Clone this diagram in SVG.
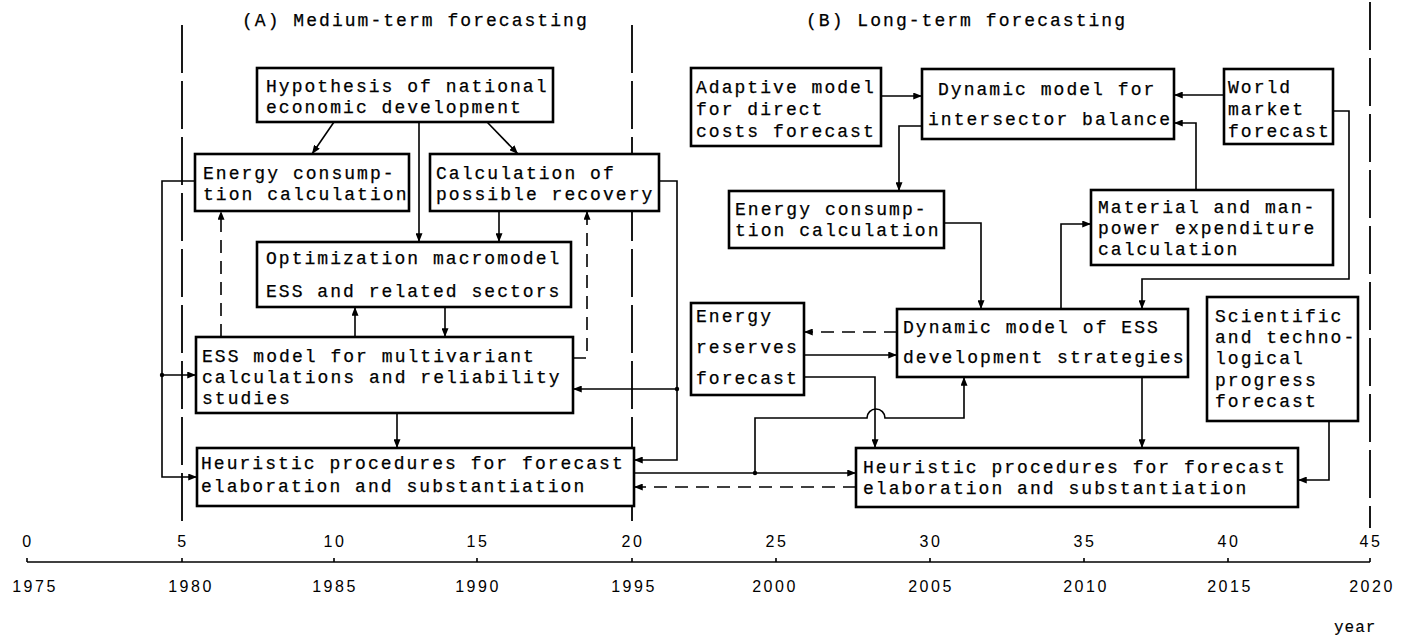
<svg xmlns="http://www.w3.org/2000/svg" width="1401" height="639" viewBox="0 0 1401 639">
  <style>
    .t { font-family: "Liberation Mono", "Courier New", monospace; font-size: 18px; letter-spacing: 2.04px; fill: #000; stroke: #000; stroke-width: 0.25; }
    .ax { font-family: "Liberation Sans", Arial, sans-serif; font-size: 16px; fill: #000; letter-spacing: 2.5px; text-anchor: middle; }
    .box { fill: #fff; stroke: #000; stroke-width: 2.6; }
    .c { fill: none; stroke: #000; stroke-width: 1.6; }
    .arr { marker-end: url(#ah); }
    .d { stroke-dasharray: 13 8; }
    .bound { fill: none; stroke: #000; stroke-width: 1.8; stroke-dasharray: 48 8; }
    .dot { fill: #000; }
  </style>
  <defs>
    <marker id="ah" viewBox="0 0 10 8" refX="10" refY="4" markerWidth="9" markerHeight="7" markerUnits="userSpaceOnUse" orient="auto">
      <path d="M0,0 L10,4 L0,8 z" fill="#000"/>
    </marker>
  </defs>
  <rect width="1401" height="639" fill="#fff"/>

  <!-- period boundaries -->
  <g id="boundaries">
    <path class="bound" d="M182,25 V528"/>
    <path class="bound" d="M632,25 V528"/>
    <path class="bound" d="M1370,2 V528"/>
  </g>

  <!-- section titles -->
  <g id="titles">
    <text class="t" x="242" y="26">(A) Medium-term forecasting</text>
    <text class="t" x="806" y="26">(B) Long-term forecasting</text>
  </g>

  <!-- connectors -->
  <g id="connectors">
    <!-- medium-term part -->
    <path class="c arr" d="M334,122 L312,154"/>
    <path class="c arr" d="M487,122 L518,154"/>
    <path class="c arr" d="M419,122 V242"/>
    <path class="c arr" d="M499,211 V242"/>
    <path class="c arr" d="M445,307 V337"/>
    <path class="c arr" d="M355,337 V307"/>
    <path class="c arr" d="M397,413 V448"/>
    <path class="c d arr" d="M221,337 V211"/>
    <path class="c d arr" d="M573,358 H587 V211"/>
    <path class="c arr" d="M196,181 H162 V477 H197"/>
    <path class="c arr" d="M162,375 H196"/>
    <circle class="dot" cx="162" cy="375" r="2.2"/>
    <path class="c arr" d="M659,181 H677 V460 H634"/>
    <path class="c arr" d="M677,389 H573"/>
    <circle class="dot" cx="677" cy="389" r="2.2"/>
    <!-- links between the two heuristic blocks -->
    <path class="c arr" d="M634,473 H856"/>
    <circle class="dot" cx="755" cy="473" r="2.2"/>
    <path class="c arr" d="M755,473 V418 H867 A9,9 0 0 1 885,418 H964 V377"/>
    <path class="c d arr" d="M856,487 H634"/>
    <!-- long-term part -->
    <path class="c arr" d="M804,377 H875 V448"/>
    <path class="c arr" d="M804,355 H897"/>
    <path class="c d arr" d="M897,332 H804"/>
    <path class="c arr" d="M1142,377 V448"/>
    <path class="c arr" d="M1329,421 V480 H1298"/>
    <path class="c arr" d="M922,126 H899 V191"/>
    <path class="c arr" d="M881,96 H922"/>
    <path class="c arr" d="M1224,95 H1174"/>
    <path class="c arr" d="M1196,190 V123 H1174"/>
    <path class="c arr" d="M1333,111 H1349 V279 H1142 V309"/>
    <path class="c arr" d="M944,223 H981 V309"/>
    <path class="c arr" d="M1061,309 V224 H1091"/>
  </g>

  <!-- medium-term nodes -->
  <g id="hypothesis">
    <rect class="box" x="257" y="68" width="296" height="54"/>
    <text class="t" x="266" y="92">Hypothesis of national</text>
    <text class="t" x="266" y="113">economic development</text>
  </g>
  <g id="energy-consumption-a">
    <rect class="box" x="195" y="154" width="214" height="57"/>
    <text class="t" x="203" y="179">Energy consump-</text>
    <text class="t" x="203" y="200">tion calculation</text>
  </g>
  <g id="recovery">
    <rect class="box" x="430" y="154" width="229" height="57"/>
    <text class="t" x="436" y="179">Calculation of</text>
    <text class="t" x="436" y="200">possible recovery</text>
  </g>
  <g id="macromodel">
    <rect class="box" x="257" y="242" width="314" height="65"/>
    <text class="t" x="266" y="264">Optimization macromodel</text>
    <text class="t" x="266" y="297">ESS and related sectors</text>
  </g>
  <g id="ess-model">
    <rect class="box" x="196" y="337" width="377" height="76"/>
    <text class="t" x="202" y="362">ESS model for multivariant</text>
    <text class="t" x="202" y="383">calculations and reliability</text>
    <text class="t" x="202" y="404">studies</text>
  </g>
  <g id="heuristic-a">
    <rect class="box" x="197" y="448" width="437" height="58"/>
    <text class="t" x="201" y="469">Heuristic procedures for forecast</text>
    <text class="t" x="201" y="492">elaboration and substantiation</text>
  </g>

  <!-- long-term nodes -->
  <g id="adaptive-model">
    <rect class="box" x="691" y="68" width="190" height="78"/>
    <text class="t" x="696" y="93">Adaptive model</text>
    <text class="t" x="696" y="115">for direct</text>
    <text class="t" x="696" y="137">costs forecast</text>
  </g>
  <g id="intersector-balance">
    <rect class="box" x="922" y="69" width="252" height="70"/>
    <text class="t" x="938" y="95">Dynamic model for</text>
    <text class="t" x="928" y="125">intersector balance</text>
  </g>
  <g id="world-market">
    <rect class="box" x="1224" y="69" width="109" height="75"/>
    <text class="t" x="1228" y="93">World</text>
    <text class="t" x="1228" y="115">market</text>
    <text class="t" x="1228" y="137">forecast</text>
  </g>
  <g id="energy-consumption-b">
    <rect class="box" x="729" y="191" width="215" height="57"/>
    <text class="t" x="735" y="215">Energy consump-</text>
    <text class="t" x="735" y="236">tion calculation</text>
  </g>
  <g id="material-manpower">
    <rect class="box" x="1091" y="190" width="242" height="75"/>
    <text class="t" x="1098" y="213">Material and man-</text>
    <text class="t" x="1098" y="234">power expenditure</text>
    <text class="t" x="1098" y="255">calculation</text>
  </g>
  <g id="energy-reserves">
    <rect class="box" x="691" y="303" width="113" height="92"/>
    <text class="t" x="696" y="322">Energy</text>
    <text class="t" x="696" y="353">reserves</text>
    <text class="t" x="696" y="384">forecast</text>
  </g>
  <g id="ess-strategies">
    <rect class="box" x="897" y="309" width="291" height="68"/>
    <text class="t" x="903" y="333">Dynamic model of ESS</text>
    <text class="t" x="903" y="363">development strategies</text>
  </g>
  <g id="sci-tech-progress">
    <rect class="box" x="1207" y="297" width="151" height="124"/>
    <text class="t" x="1215" y="322">Scientific</text>
    <text class="t" x="1215" y="343">and techno-</text>
    <text class="t" x="1215" y="364">logical</text>
    <text class="t" x="1215" y="386">progress</text>
    <text class="t" x="1215" y="407">forecast</text>
  </g>
  <g id="heuristic-b">
    <rect class="box" x="856" y="448" width="442" height="59"/>
    <text class="t" x="863" y="473">Heuristic procedures for forecast</text>
    <text class="t" x="863" y="494">elaboration and substantiation</text>
  </g>

  <!-- time axis -->
  <g id="axis">
    <path class="c" d="M27,562 H1370"/>
    <path class="c" d="M27,562 v-4 M182,562 v-4 M334,562 v-4 M477,562 v-4 M632,562 v-4 M776,562 v-4 M930,562 v-4 M1084,562 v-4 M1228,562 v-4 M1370,562 v-4"/>
    <text class="ax" x="28" y="547">0</text>
    <text class="ax" x="183" y="547">5</text>
    <text class="ax" x="335" y="547">10</text>
    <text class="ax" x="478" y="547">15</text>
    <text class="ax" x="633" y="547">20</text>
    <text class="ax" x="777" y="547">25</text>
    <text class="ax" x="931" y="547">30</text>
    <text class="ax" x="1085" y="547">35</text>
    <text class="ax" x="1229" y="547">40</text>
    <text class="ax" x="1371" y="547">45</text>
    <text class="ax" x="35" y="592">1975</text>
    <text class="ax" x="191" y="592">1980</text>
    <text class="ax" x="335" y="592">1985</text>
    <text class="ax" x="478" y="592">1990</text>
    <text class="ax" x="634" y="592">1995</text>
    <text class="ax" x="775" y="592">2000</text>
    <text class="ax" x="931" y="592">2005</text>
    <text class="ax" x="1086" y="592">2010</text>
    <text class="ax" x="1230" y="592">2015</text>
    <text class="ax" x="1372" y="592">2020</text>
    <text class="t" x="1334" y="632" style="font-size:16px;letter-spacing:1px;stroke-width:0.15">year</text>
  </g>
</svg>
